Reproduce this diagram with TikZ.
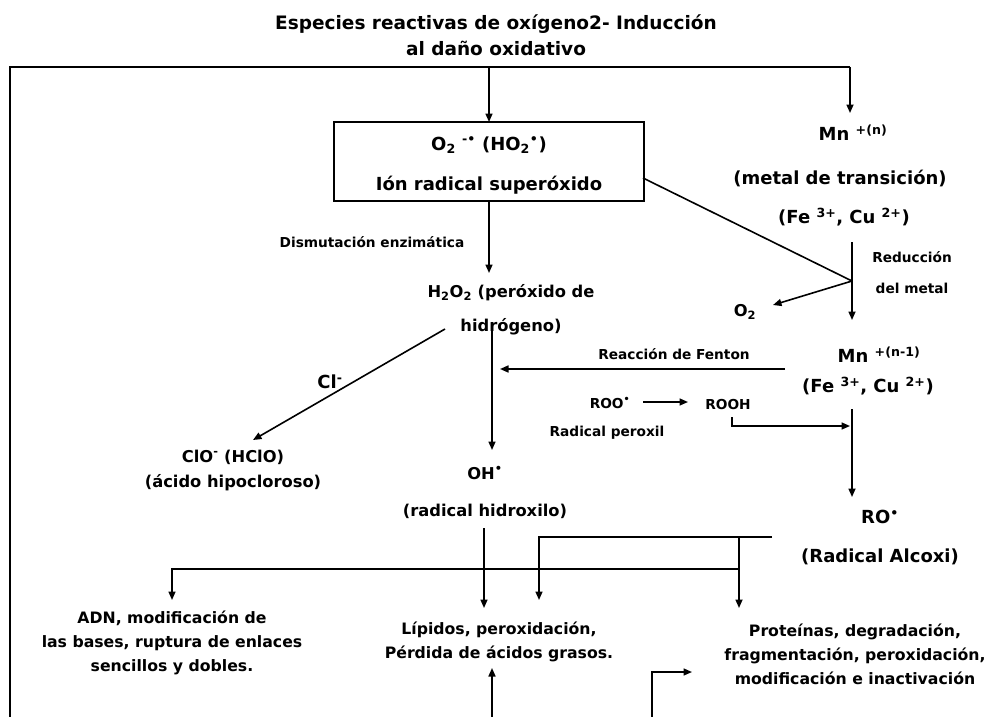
\documentclass[tikz,border=0pt]{standalone}
\usepackage{fontspec}
\setmainfont{DejaVu Sans}
\usetikzlibrary{arrows.meta}
\newcommand\rdot{\textsuperscript{•}}
\begin{document}
\begin{tikzpicture}[x=1pt,y=-1pt,
  every node/.style={inner sep=0pt, outer sep=0pt, text=black},
  ttl/.style={font=\fontsize{18.5}{26}\selectfont\bfseries, align=center},
  big/.style={font=\fontsize{18}{22}\selectfont\bfseries},
  mid/.style={font=\fontsize{16.3}{20}\selectfont\bfseries},
  bot/.style={font=\fontsize{15.7}{24}\selectfont\bfseries, align=center},
  sml/.style={font=\fontsize{13.7}{17}\selectfont\bfseries},
  ln/.style={line width=1.6pt},
  arr/.style={line width=1.6pt, -{Triangle[length=8.5pt,width=7pt]}},
]
\useasboundingbox (0,0) rectangle (988,717);

% title
\node[ttl] (title) at (496,35) {Especies reactivas de oxígeno2- Inducción\\al daño oxidativo};

% box
\node[draw, line width=1.6pt, minimum width=310pt, minimum height=79pt, align=center,
      font=\fontsize{18}{40}\selectfont\bfseries] (box) at (489,161.5)
  {\rule{0pt}{21pt}O\textsubscript{2} \textsuperscript{-•} (HO\textsubscript{2}\rdot)\\Ión radical superóxido};

% texts
\node[big] (mn) at (853,133) {Mn \textsuperscript{+(n)}};
\node[big] (metal) at (840,178) {(metal de transición)};
\node[big] (fe1) at (844,217) {(Fe \textsuperscript{3+}, Cu \textsuperscript{2+})};
\node[sml] (reduc) at (912,257) {Reducción};
\node[sml] (delm) at (912,288) {del metal};
\node[mid] (o2) at (745,312) {O\textsubscript{2}};
\node[sml] (dism) at (372,242) {Dismutación enzimática};
\node[mid] (h2o2) at (511,293) {H\textsubscript{2}O\textsubscript{2} (peróxido de};
\node[mid] (hidro) at (511,327) {hidrógeno)};
\node[big] (cl) at (330,382) {Cl\textsuperscript{-}};
\node[mid] (clo) at (233,457) {ClO\textsuperscript{-} (HClO)};
\node[mid] (acido) at (233,483) {(ácido hipocloroso)};
\node[sml] (fenton) at (674,354) {Reacción de Fenton};
\node[big] (mn2) at (879,355) {Mn \textsuperscript{+(n-1)}};
\node[big] (fe2) at (868,386) {(Fe \textsuperscript{3+}, Cu \textsuperscript{2+})};
\node[sml] (roo) at (610,403) {ROO\rdot};
\node[sml] (rooh) at (728,405) {ROOH};
\node[sml] (perox) at (607,433) {Radical peroxil};
\node[mid] (oh) at (485,473) {OH\rdot};
\node[mid] (hidrox) at (485,511) {(radical hidroxilo)};
\node[big] (ro) at (880,517) {RO\rdot};
\node[big] (alcoxi) at (880,557) {(Radical Alcoxi)};
\node[bot] (adn) at (172,643) {ADN, modificación de\\las bases, ruptura de enlaces\\sencillos y dobles.};
\node[bot] (lip) at (499,642) {Lípidos, peroxidación,\\Pérdida de ácidos grasos.};
\node[bot] (prot) at (855,654) {Proteínas, degradación,\\fragmentación, peroxidación,\\modificación e inactivación};

% coordinates
\coordinate (TL) at (10,67);
\coordinate (TR) at (850,67);
\coordinate (BL) at (10,717);
\coordinate (Tbox) at (489,67);
\coordinate (mnIn) at (850,113);
\coordinate (h2in) at (489,273);
\coordinate (dg0) at (643,178);
\coordinate (red) at (852,281);
\coordinate (mnA) at (852,242);
\coordinate (mnB) at (852,320);
\coordinate (o2in) at (773,305);
\coordinate (h2out) at (492,322);
\coordinate (ohin) at (492,450);
\coordinate (clA) at (445,329);
\coordinate (clB) at (253,440);
\coordinate (fA) at (785,369);
\coordinate (fB) at (500,369);
\coordinate (rA) at (643,402);
\coordinate (rB) at (688,402);
\coordinate (bkA) at (732,417);
\coordinate (bkB) at (850,426);
\coordinate (m2A) at (852,409);
\coordinate (m2B) at (852,497);
\coordinate (ohA) at (484,528);
\coordinate (ohB) at (484,608);
\coordinate (uA) at (772,537);
\coordinate (uB) at (539,600);
\coordinate (jU) at (739,537);
\coordinate (jD) at (739,608);
\coordinate (jL) at (739,569);
\coordinate (adnIn) at (172,600);
\coordinate (b1) at (492,717);
\coordinate (b1t) at (492,668);
\coordinate (b2) at (652,717);
\coordinate (b2t) at (692,672);

% connectors
\draw[ln] (BL) -- (TL) -- (TR);
\draw[arr] (TR) -- (mnIn);
\draw[arr] (Tbox) -- (box.north);
\draw[arr] (box.south) -- (h2in);
\draw[ln] (dg0) -- (red);
\draw[arr] (mnA) -- (mnB);
\draw[arr] (red) -- (o2in);
\draw[arr] (h2out) -- (ohin);
\draw[arr] (clA) -- (clB);
\draw[arr] (fA) -- (fB);
\draw[arr] (rA) -- (rB);
\draw[arr] (bkA) |- (bkB);
\draw[arr] (m2A) -- (m2B);
\draw[arr] (ohA) -- (ohB);
\draw[arr] (uA) -| (uB);
\draw[arr] (jU) -- (jD);
\draw[arr] (jL) -| (adnIn);
\draw[arr] (b1) -- (b1t);
\draw[arr] (b2) |- (b2t);
\end{tikzpicture}
\end{document}
